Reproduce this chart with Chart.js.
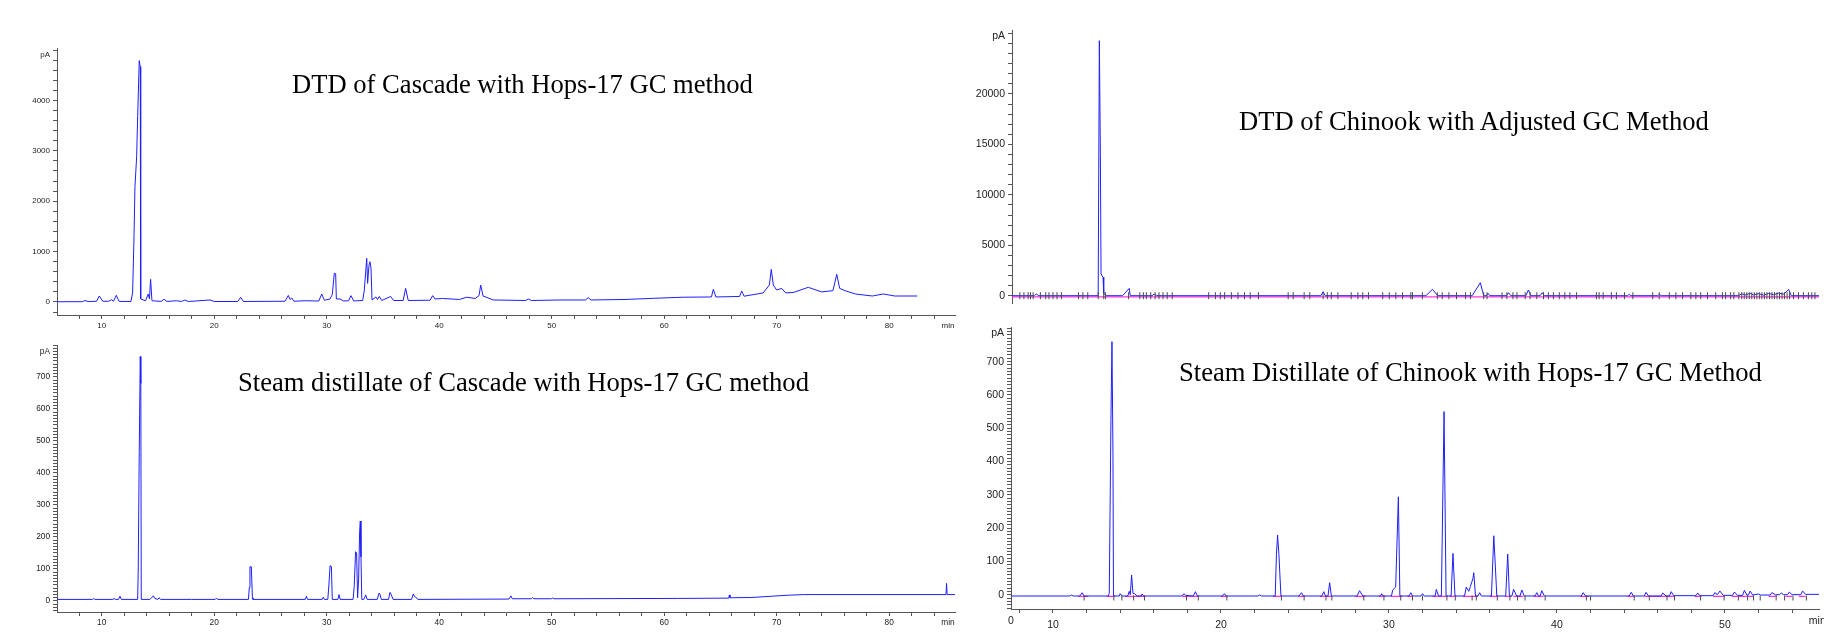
<!DOCTYPE html>
<html>
<head>
<meta charset="utf-8">
<script src="https://cdn.jsdelivr.net/npm/chart.js@4.4.1/dist/chart.umd.min.js"></script>
<style>
    html, body { margin: 0; padding: 0; background: #ffffff; }
    body { position: relative; width: 1824px; height: 634px; overflow: hidden; }
    canvas { position: absolute; }
    .title {
        position: absolute;
        font-family: 'Liberation Serif', 'Times New Roman', serif;
        font-size: 26.6px;
        line-height: 1;
        color: #000000;
        white-space: nowrap;
    }
</style>
</head>
<body>
<canvas id="cascadeDtdCanvas" width="975" height="300" style="left:0px;top:38px"></canvas>
<canvas id="cascadeSteamCanvas" width="975" height="299" style="left:0px;top:335px"></canvas>
<canvas id="chinookDtdCanvas" width="864" height="300" style="left:960px;top:20px"></canvas>
<canvas id="chinookSteamCanvas" width="864" height="314" style="left:960px;top:320px"></canvas>

<div class="title" style="left:292px;top:71px">DTD of Cascade with Hops-17 GC method</div>
<div class="title" style="left:238px;top:369px">Steam distillate of Cascade with Hops-17 GC method</div>
<div class="title" style="left:1239px;top:108px">DTD of Chinook with Adjusted GC Method</div>
<div class="title" style="left:1179px;top:359px">Steam Distillate of Chinook with Hops-17 GC Method</div>

<script>
// 保持時間 [min] とシグナル [pA] の組
const cascadeDtdTrace = [
    [6.03, 5], [8.3, 6], [8.52, 30], [8.8, 8], [9.55, 15], [9.79, 119], [10.1, 15], [10.6, 15],
    [10.89, 45], [11.05, 15], [11.3, 132], [11.55, 12], [12.6, 10], [12.75, 180], [12.87, 1230],
    [12.96, 2290], [13.11, 2880], [13.2, 3680], [13.34, 4790], [13.43, 4670], [13.47, 60],
    [13.9, 25], [14.14, 158], [14.25, 60], [14.35, 450], [14.47, 25], [15.3, 12], [15.54, 55],
    [15.8, 12], [16.67, 25], [17.1, 10], [17.4, 40], [17.7, 10], [19.63, 40], [20.0, 10],
    [22.1, 10], [22.36, 93], [22.6, 10], [26.3, 15], [26.59, 130], [26.75, 50], [26.89, 80],
    [27.1, 15], [28.07, 25], [29.3, 20], [29.56, 158], [29.8, 35], [30.3, 60], [30.5, 150],
    [30.68, 570], [30.8, 560], [30.86, 60], [31.18, 60], [31.5, 20], [31.95, 25], [32.16, 126],
    [32.4, 20], [33.2, 30], [33.34, 220], [33.56, 867], [33.64, 370], [33.76, 725], [33.85, 800],
    [33.94, 670], [34.03, 40], [34.38, 100], [34.52, 50], [34.68, 110], [34.9, 30], [35.69, 110],
    [35.95, 30], [36.8, 30], [37.02, 270], [37.25, 30], [39.2, 35], [39.42, 126], [39.63, 60],
    [40.31, 70], [41.8, 50], [42.44, 95], [43.2, 70], [43.55, 130], [43.69, 337], [43.9, 120],
    [44.81, 40], [47.7, 30], [47.92, 60], [48.2, 30], [50.74, 40], [53.0, 40], [53.25, 86],
    [53.5, 40], [56.52, 50], [59.03, 73], [61.7, 95], [64.2, 100], [64.37, 251], [64.6, 100],
    [66.7, 110], [66.89, 218], [67.1, 115], [68.8, 180], [69.35, 337], [69.52, 648], [69.7, 337],
    [70.0, 238], [70.45, 270], [70.8, 180], [71.5, 190], [72.81, 291], [74.0, 200], [75.0, 225],
    [75.34, 549], [75.6, 270], [76.07, 225], [77.0, 159], [78.5, 119], [79.48, 159], [80.5, 119],
    [81.2, 119], [82.5, 119],
];

const cascadeSteamTrace = [
    [6.03, 5], [9.2, 5], [9.3, 8], [9.4, 5], [11.0, 5], [11.1, 8], [11.2, 5], [11.5, 5],
    [11.63, 15], [11.75, 5], [13.2, 5], [13.25, 97], [13.34, 467], [13.43, 764], [13.48, 680],
    [13.52, 5], [14.3, 5], [14.48, 12], [14.6, 16], [14.72, 8], [15.0, 5], [15.1, 10], [15.25, 5],
    [18.0, 5], [20.1, 5], [20.2, 9], [20.3, 5], [23.05, 5], [23.12, 42], [23.18, 107], [23.3, 107],
    [23.4, 10], [23.45, 5], [28.1, 5], [28.2, 15], [28.3, 5], [29.6, 5], [29.7, 12], [29.8, 5],
    [30.1, 5], [30.2, 50], [30.3, 110], [30.42, 108], [30.5, 5], [31.0, 5], [31.1, 20], [31.2, 5],
    [32.35, 5], [32.45, 45], [32.57, 154], [32.66, 151], [32.75, 10], [32.84, 68], [32.93, 216],
    [32.99, 250], [33.05, 138], [33.12, 5], [33.3, 5], [33.47, 19], [33.6, 5], [34.5, 5],
    [34.66, 25], [34.75, 20], [34.85, 5], [35.5, 5], [35.63, 27], [35.75, 19], [35.9, 5],
    [37.55, 5], [37.7, 22], [37.8, 14], [38.0, 10], [38.1, 5], [46.2, 6], [46.38, 16], [46.5, 7],
    [48.2, 7], [48.3, 11], [48.4, 7], [50.0, 7], [50.08, 10], [50.2, 7], [61.2, 8], [65.75, 9],
    [65.79, 19], [65.85, 10], [67.8, 11], [69.6, 15], [71.0, 18], [72.4, 20], [85.05, 20],
    [85.1, 55], [85.15, 20], [85.85, 20],
];

const chinookDtdTrace = [
    [7.56, 0], [8.9, 0], [9.0, 165], [9.15, 0], [12.69, 0], [12.76, 25285], [12.82, 14120],
    [12.86, 2220], [12.92, 1950], [12.98, 1850], [13.02, 230], [13.16, 0], [14.14, 0],
    [14.54, 727], [14.6, 0], [15.9, 0], [16.02, 165], [16.15, 0], [25.95, 0], [26.08, 400],
    [26.2, 0], [32.2, 0], [32.59, 630], [32.9, 0], [34.95, 0], [35.44, 1290], [35.64, 0],
    [35.8, 0], [35.9, 230], [36.0, 0], [37.0, 0], [37.12, 300], [37.25, 0], [38.15, 0],
    [38.3, 565], [38.45, 0], [39.0, 0], [39.13, 300], [39.25, 0], [44.2, 0], [44.3, 130],
    [44.4, 0], [46.0, 0], [46.1, 130], [46.2, 0], [50.8, 0], [51.0, 200], [51.2, 60], [51.5, 230],
    [51.7, 80], [52.0, 200], [52.3, 60], [52.6, 230], [52.9, 100], [53.2, 250], [53.5, 150],
    [53.79, 630], [53.95, 0], [55.6, 0],
];

// 積分マーク位置 [min]
const chinookDtdMarks = [
    8.03, 8.27, 8.52, 8.66, 8.82, 9.25, 9.57, 9.76, 10.0, 10.24, 10.5, 11.52, 11.78, 12.07,
    12.69, 13.02, 13.12, 14.5, 15.17, 15.38, 15.56, 15.82, 16.08, 16.31, 16.55, 16.8, 17.1,
    19.27, 19.67, 19.96, 20.22, 20.62, 21.01, 21.4, 21.74, 22.23, 24.0, 24.3, 24.95, 25.29,
    26.08, 26.33, 26.57, 26.96, 27.75, 28.15, 28.44, 28.78, 29.63, 30.02, 30.41, 30.81, 31.3,
    31.4, 31.99, 32.88, 33.17, 33.57, 34.02, 34.56, 34.85, 35.64, 35.84, 36.73, 37.02, 37.38,
    37.62, 38.11, 38.4, 38.8, 39.2, 39.49, 39.79, 40.14, 40.47, 40.77, 41.17, 42.35, 42.51,
    42.75, 43.24, 43.54, 44.02, 44.52, 45.7, 46.09, 46.69, 47.08, 47.48, 47.97, 48.27, 48.56,
    48.96, 49.45, 49.85, 50.04, 50.34, 50.53, 50.83, 51.0, 51.15, 51.3, 51.45, 51.6, 51.75,
    51.9, 52.05, 52.2, 52.35, 52.5, 52.65, 52.8, 52.95, 53.1, 53.25, 53.4, 53.55, 53.7, 53.85,
    54.08, 54.38, 54.67, 54.97, 55.17, 55.36,
];

const chinookSteamTrace = [
    [7.5, -4], [11.0, -4], [11.09, -1], [11.2, -4], [11.6, -4], [11.74, 6], [11.85, -4],
    [13.29, -4], [13.35, 4], [13.45, 525], [13.51, 760], [13.57, 425], [13.6, -4], [13.95, -4],
    [14.0, 3], [14.1, -4], [14.45, -4], [14.54, 10], [14.6, 0], [14.68, 59], [14.76, 4],
    [14.85, 3], [15.0, -4], [15.25, -4], [15.3, 2], [15.4, -4], [17.7, -4], [17.79, 3],
    [17.9, -2], [18.35, -4], [18.48, 9], [18.6, -4], [20.1, -4], [20.2, 3], [20.3, -4],
    [22.2, -4], [22.3, -1], [22.4, -4], [23.23, -4], [23.3, 120], [23.37, 179], [23.45, 120],
    [23.57, -4], [24.65, -4], [24.79, 6], [24.9, -4], [26.0, -4], [26.12, 9], [26.22, -4],
    [26.37, -4], [26.47, 36], [26.57, -4], [28.1, -4], [28.25, 12], [28.45, -4], [29.5, -4],
    [29.57, 3], [29.65, -4], [30.15, -4], [30.22, 14], [30.4, 23], [30.56, 294], [30.65, -4],
    [31.2, -4], [31.3, 6], [31.4, -4], [31.9, -4], [32.0, 3], [32.1, -4], [32.75, -4],
    [32.82, 16], [32.95, -4], [33.12, -4], [33.28, 550], [33.4, -4], [33.7, -4], [33.81, 124],
    [33.93, -4], [34.5, -4], [34.6, 23], [34.75, 10], [34.85, 25], [35.0, 49], [35.05, 66],
    [35.15, -4], [35.3, -4], [35.4, 6], [35.5, -4], [36.1, -4], [36.24, 177], [36.33, 89],
    [36.42, -4], [36.95, -4], [37.07, 122], [37.17, -4], [37.32, -4], [37.42, 16], [37.6, -4],
    [37.8, -4], [37.91, 14], [38.05, -4], [38.7, -4], [38.8, 6], [38.9, -4], [39.0, -4],
    [39.1, 12], [39.25, -4], [41.45, -4], [41.56, 6], [41.7, -4], [44.3, -4], [44.42, 7],
    [44.55, -4], [45.2, -4], [45.3, 7], [45.45, -4], [46.2, -4], [46.3, 5], [46.5, -4],
    [46.7, -4], [46.8, 9], [46.95, -3], [48.28, -3], [48.38, 5], [48.5, -3], [49.3, -3],
    [49.4, 6], [49.55, 0], [49.7, 11], [49.9, -2], [50.45, -2], [50.57, 8], [50.75, -2],
    [51.05, -2], [51.16, 13], [51.3, -1], [51.4, -1], [51.5, 11], [51.65, -1], [52.0, 2],
    [52.1, -1], [52.7, -1], [52.79, 6], [53.0, 0], [53.25, 0], [53.35, 5], [53.5, 0], [53.73, 0],
    [53.83, 8], [54.0, 0], [54.52, 0], [54.62, 11], [54.8, 1], [55.6, 1],
];

const chinookSteamMarks = [
    11.85, 13.62, 14.1, 14.8, 15.45, 17.95, 18.65, 20.35, 23.6, 24.95, 26.25, 26.6, 28.5, 29.7,
    30.7, 31.4, 32.0, 33.45, 33.95, 34.95, 35.2, 36.45, 37.2, 37.65, 38.1, 39.3, 41.75, 42.0,
    44.6, 45.5, 46.55, 47.0, 48.55, 49.95, 50.8, 51.35, 51.7, 52.1, 53.05, 53.55, 54.05, 54.85,
];

// ベースライン区間 [開始, 終了]
const chinookSteamBaselines = [
    [11.5, 12.1], [13.2, 13.7], [14.3, 15.5], [17.7, 18.7], [20.0, 20.4], [23.1, 23.6],
    [24.6, 25.0], [25.9, 26.6], [28.0, 28.6], [29.4, 29.8], [30.1, 30.8], [31.1, 31.4],
    [32.6, 33.5], [33.6, 34.0], [34.4, 35.3], [36.0, 36.5], [36.9, 37.3], [37.4, 38.0],
    [38.6, 39.2], [41.4, 41.9], [44.2, 44.6], [45.2, 47.0], [48.2, 48.6], [49.3, 50.0],
    [50.4, 51.7], [52.6, 53.1], [53.6, 54.0], [54.4, 54.8],
];

/**
 * 軸の単位などを描くプラグイン
 */
const axisNotesPlugin = {
    id: 'axisNotes',
    afterDraw: (chart, args, opts) => {
        const { ctx, chartArea, scales } = chart;
        ctx.save();
        ctx.fillStyle = '#222222';
        ctx.font = `${opts.size}px 'Liberation Sans', Arial, sans-serif`;
        ctx.textBaseline = 'middle';

        // 縦軸の単位
        ctx.textAlign = 'right';
        ctx.fillText(opts.unitY, chartArea.left - 7, chartArea.top + 6.5);

        // 横軸の単位
        ctx.textAlign = 'center';
        if (opts.unitXAt != null) {
            ctx.fillText(opts.unitX, scales.x.getPixelForValue(opts.unitXAt), chartArea.bottom + opts.labelOffset);
        }
        // 左下の "0"
        if (opts.cornerText) {
            ctx.fillText(opts.cornerText, chartArea.left, chartArea.bottom + opts.labelOffset);
        }
        ctx.restore();
    },
};

class Chromatogram {
    static AXIS_COLOR = '#555555';
    static TEXT_COLOR = '#222222';
    static TRACE_COLOR = 'rgb(30, 30, 255)';

    /**
     * 目盛り位置を step 刻みで作る（Chart.js の自動調整を避ける）
     */
    static stepTicks(step) {
        return (scale) => {
            const ticks = [];
            const first = Math.ceil(scale.min / step);
            const last = Math.floor(scale.max / step);
            for (let i = first; i <= last; i++) {
                ticks.push({ value: Math.round(i * step * 1000) / 1000 });
            }
            scale.ticks = ticks;
        };
    }

    /**
     * 目盛りラベル（主目盛りのみ表示）
     */
    static tickLabel(major, labelMax) {
        return (value) => {
            const r = Math.abs(value % major);
            if (r > 1e-6 && Math.abs(r - major) > 1e-6) return '';
            if (value < 0 || value > labelMax) return '';
            return String(Math.round(value));
        };
    }

    /**
     * クロマトグラムを1枚描画する
     * @param {string} canvasId キャンバスID
     * @param {Object} panel 描画設定
     */
    static draw(canvasId, panel) {
        const ctx = document.getElementById(canvasId).getContext('2d');
        const datasets = [];

        // 積分マーク（縦線）
        if (panel.marks) {
            datasets.push({
                data: panel.marks.map((t) => ({ x: t, y: panel.markY })),
                showLine: false,
                pointStyle: 'line',
                pointRotation: 90,
                pointRadius: panel.markSize,
                pointBorderColor: '#4a4a4a',
                pointBorderWidth: 1,
            });
        }

        // シグナル
        datasets.push({
            data: panel.trace.map(([x, y]) => ({ x, y })),
            borderColor: Chromatogram.TRACE_COLOR,
            borderWidth: 1,
            pointRadius: 0,
            tension: 0,
        });

        // ベースライン（ピンク）
        if (panel.baselines) {
            const pts = panel.baselines.flatMap(([a, b]) => [
                { x: a, y: panel.baselineY },
                { x: b, y: panel.baselineY },
                { x: b, y: null },
            ]);
            datasets.push({
                data: pts,
                borderColor: '#ff33dd',
                borderWidth: 1.2,
                pointRadius: 0,
                spanGaps: false,
            });
        }

        const font = { family: "'Liberation Sans', Arial, sans-serif", size: panel.fontSize };

        return new Chart(ctx, {
            type: 'line',
            data: { datasets },
            options: {
                responsive: false,
                animation: false,
                events: [],
                layout: { padding: { top: panel.padTop, right: panel.padRight, bottom: panel.padBottom, left: 0 } },
                plugins: {
                    legend: { display: false },
                    tooltip: { enabled: false },
                    axisNotes: {
                        size: panel.fontSize,
                        unitY: 'pA',
                        unitX: 'min',
                        unitXAt: panel.unitXAt,
                        labelOffset: panel.labelOffset,
                        cornerText: panel.cornerText,
                    },
                },
                scales: {
                    x: {
                        type: 'linear',
                        display: panel.showX,
                        min: panel.xMin,
                        max: panel.xMax,
                        afterBuildTicks: Chromatogram.stepTicks(2),
                        afterFit: (s) => {
                            s.height = panel.xAxisHeight;
                            s.paddingLeft = 0;
                            s.paddingRight = 0;
                        },
                        border: { display: true, color: Chromatogram.AXIS_COLOR, width: 1 },
                        grid: { drawOnChartArea: false, drawTicks: true, tickLength: 4, color: Chromatogram.AXIS_COLOR },
                        ticks: {
                            autoSkip: false,
                            maxRotation: 0,
                            minRotation: 0,
                            padding: panel.xTickPadding,
                            color: Chromatogram.TEXT_COLOR,
                            font,
                            callback: Chromatogram.tickLabel(10, panel.xLabelMax),
                        },
                    },
                    y: {
                        type: 'linear',
                        min: panel.yMin,
                        max: panel.yMax,
                        afterBuildTicks: Chromatogram.stepTicks(panel.yMinor),
                        afterFit: (s) => {
                            s.width = panel.yAxisWidth;
                            s.paddingTop = 0;
                            s.paddingBottom = 0;
                        },
                        border: { display: true, color: Chromatogram.AXIS_COLOR, width: 1 },
                        grid: { drawOnChartArea: false, drawTicks: true, tickLength: 4, color: Chromatogram.AXIS_COLOR },
                        ticks: {
                            autoSkip: false,
                            padding: 3,
                            color: Chromatogram.TEXT_COLOR,
                            font,
                            callback: Chromatogram.tickLabel(panel.yMajor, panel.yLabelMax),
                        },
                    },
                },
            },
            plugins: [axisNotesPlugin],
        });
    }
}

// Cascade DTD
Chromatogram.draw('cascadeDtdCanvas', {
    trace: cascadeDtdTrace,
    xMin: 6.03, xMax: 85.85, yMin: -258, yMax: 5040,
    yMinor: 200, yMajor: 1000, yLabelMax: 4000, xLabelMax: 80,
    showX: true, fontSize: 8, xTickPadding: 2,
    yAxisWidth: 57, xAxisHeight: 23, padTop: 10, padRight: 20, padBottom: 0,
    unitXAt: 85.23, labelOffset: 10.5,
});

// Cascade 水蒸気蒸留
Chromatogram.draw('cascadeSteamCanvas', {
    trace: cascadeSteamTrace,
    xMin: 6.03, xMax: 85.85, yMin: -34.4, yMax: 800,
    yMinor: 10, yMajor: 100, yLabelMax: 700, xLabelMax: 80,
    showX: true, fontSize: 8.3, xTickPadding: 2,
    yAxisWidth: 57, xAxisHeight: 22, padTop: 10, padRight: 20, padBottom: 0,
    unitXAt: 85.23, labelOffset: 10.5,
});

// Chinook DTD
Chromatogram.draw('chinookDtdCanvas', {
    trace: chinookDtdTrace,
    marks: chinookDtdMarks, markY: 0, markSize: 3.5,
    baselines: [[7.56, 55.6]], baselineY: -120,
    xMin: 7.56, xMax: 55.6, yMin: -724, yMax: 26346,
    yMinor: 1000, yMajor: 5000, yLabelMax: 20000, xLabelMax: 50,
    showX: false, fontSize: 10.5, xTickPadding: 6,
    yAxisWidth: 52, xAxisHeight: 0, padTop: 10, padRight: 0, padBottom: 17,
    unitXAt: null, labelOffset: 12,
});

// Chinook 水蒸気蒸留
Chromatogram.draw('chinookSteamCanvas', {
    trace: chinookSteamTrace,
    marks: chinookSteamMarks, markY: -10, markSize: 2.5,
    baselines: chinookSteamBaselines, baselineY: -5,
    xMin: 7.5, xMax: 55.6, yMin: -43, yMax: 804,
    yMinor: 10, yMajor: 100, yLabelMax: 700, xLabelMax: 50,
    showX: true, fontSize: 10.5, xTickPadding: 6,
    yAxisWidth: 51, xAxisHeight: 25, padTop: 7, padRight: 0, padBottom: 0,
    unitXAt: 55.5, labelOffset: 12.4, cornerText: '0',
});
</script>
</body>
</html>
